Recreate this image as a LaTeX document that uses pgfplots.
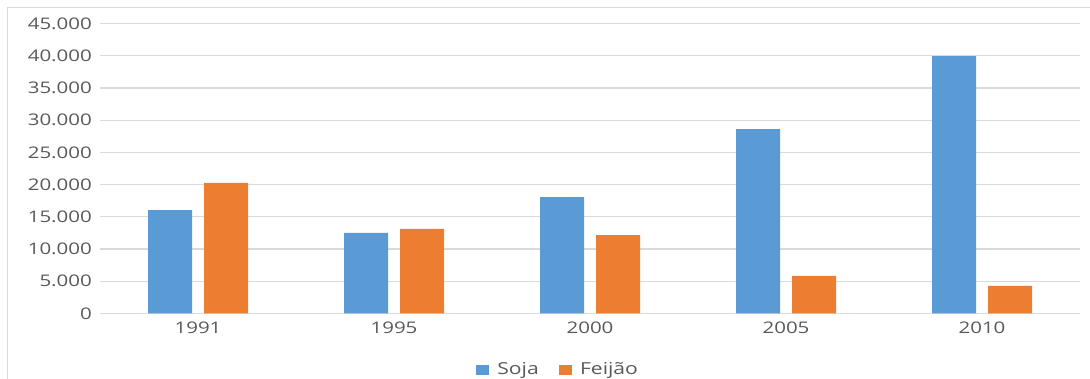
\documentclass[border=0pt]{standalone}
\usepackage{pgfplots}
\pgfplotsset{compat=1.18}
\usepackage{fontspec}
\newfontfamily\chartfont{Open Sans}[FakeStretch=1.28]
\definecolor{soja}{HTML}{5B9BD5}
\definecolor{feijao}{HTML}{ED7D31}
\definecolor{txt}{HTML}{595959}
\definecolor{grd}{HTML}{D9D9D9}
\begin{document}
\begin{tikzpicture}
\useasboundingbox (0,0) rectangle (1090bp,379bp);
\draw[grd, line width=1bp] (7.3bp,0) -- (7.3bp,371.7bp) -- (1090bp,371.7bp);
\begin{axis}[
  at={(100bp,65.7bp)}, anchor=south west,
  scale only axis, width=980bp, height=289.6bp,
  xmin=-0.5, xmax=4.5, ymin=0, ymax=45000,
  scaled y ticks=false,
  ybar=12bp, bar width=44bp,
  xtick={0,1,2,3,4}, xticklabels={1991,1995,2000,2005,2010},
  ytick={0,5000,10000,15000,20000,25000,30000,35000,40000,45000},
  yticklabels={0,5.000,10.000,15.000,20.000,25.000,30.000,35.000,40.000,45.000},
  ymajorgrids, grid style={grd, line width=1.2bp},
  axis line style={draw=none}, major tick length=0,
  tick label style={font=\chartfont\fontsize{16bp}{18bp}\selectfont, text=txt, inner sep=0pt},
  yticklabel style={anchor=east, xshift=-8bp},
  xticklabel style={anchor=north, yshift=-8.4bp},
  legend columns=2,
  legend style={at={(0.3837,-0.2175)}, anchor=south west, draw=none, fill=none,
    inner sep=0pt, outer sep=0pt,
    font=\chartfont\fontsize{16.5bp}{19bp}\selectfont, text=txt,
    nodes={inner sep=0pt},
    /tikz/every odd column/.style={column sep=8bp},
    /tikz/every even column/.style={column sep=20bp}},
  legend image code/.code={\fill[#1] (0bp,-6bp) rectangle (13.3bp,4bp);},
]
\addplot[fill=soja, draw=none] coordinates {(0,16050) (1,12480) (2,18070) (3,28600) (4,39970)};
\addplot[fill=feijao, draw=none] coordinates {(0,20250) (1,13100) (2,12160) (3,5800) (4,4250)};
\legend{Soja,Feijão}
\end{axis}
\end{tikzpicture}
\end{document}
